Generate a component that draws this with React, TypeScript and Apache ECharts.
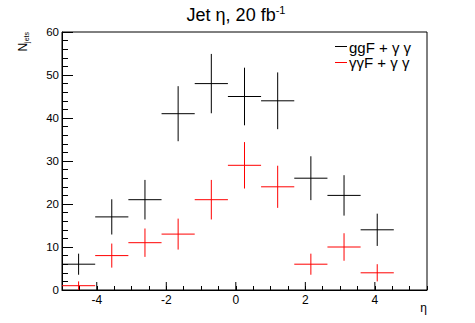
import React, { useEffect, useRef } from "react";
import * as echarts from "echarts";

// Histogram definition: 11 bins of eta from -5 to 5.5
const binEdges = [-5, -4.045, -3.091, -2.136, -1.182, -0.227, 0.727, 1.682, 2.636, 3.591, 4.545, 5.5];
const ggfCounts = [6, 17, 21, 41, 48, 45, 44, 26, 22, 14, 0];
const ggfErrors = [2.45, 4.1, 4.6, 6.4, 6.9, 6.7, 6.6, 5.1, 4.7, 3.75, 0];
const vbfCounts = [1, 8, 11, 13, 21, 29, 24, 6, 10, 4, 0];
const vbfErrors = [1, 2.8, 3.3, 3.6, 4.6, 5.4, 4.9, 2.45, 3.2, 2, 0];
const xMajorTicks = [-4, -2, 0, 2, 4];
const seriesNames = ["ggF + \u03b3 \u03b3", "\u03b3\u03b3F + \u03b3 \u03b3"];
const seriesColors = ["#000000", "#ff0000"];

const FONT = "Liberation Sans, Arial, Helvetica, sans-serif";

function buildData(counts: number[], errors: number[]) {
  const out: number[][] = [];
  counts.forEach((v, i) => {
    if (v <= 0) return;
    const lo = binEdges[i];
    const hi = binEdges[i + 1];
    out.push([(lo + hi) / 2, v, lo, hi, errors[i]]);
  });
  return out;
}

function errorSeries(name: string, counts: number[], errors: number[], color: string) {
  return {
    type: "custom",
    name,
    clip: true,
    data: buildData(counts, errors),
    renderItem: (_params: any, api: any) => {
      const c = api.value(0);
      const v = api.value(1);
      const lo = api.value(2);
      const hi = api.value(3);
      const e = api.value(4);
      const pL = api.coord([lo, v]);
      const pR = api.coord([hi, v]);
      const pT = api.coord([c, v + e]);
      const pB = api.coord([c, Math.max(0, v - e)]);
      return {
        type: "group",
        children: [
          {
            type: "line",
            shape: { x1: pL[0], y1: pL[1], x2: pR[0], y2: pR[1] },
            style: { stroke: color, lineWidth: 1 },
          },
          {
            type: "line",
            shape: { x1: pT[0], y1: pT[1], x2: pB[0], y2: pB[1] },
            style: { stroke: color, lineWidth: 1 },
          },
        ],
      };
    },
  };
}

export default function App() {
  const ref = useRef<HTMLDivElement>(null);
  useEffect(() => {
    if (!ref.current) return;
    const chart = echarts.init(ref.current, undefined, { renderer: "svg" });
    const option: any = {
      animation: false,
      backgroundColor: "#ffffff",
      grid: {
        left: 62,
        right: 48,
        top: 32,
        bottom: 33,
        show: true,
        borderColor: "#000",
        borderWidth: 1,
        backgroundColor: "transparent",
      },
      xAxis: {
        type: "value",
        min: -5,
        max: 5.5,
        interval: 0.5,
        splitLine: { show: false },
        axisLine: { show: true, onZero: false, lineStyle: { color: "#000", width: 1 } },
        axisTick: { show: true, inside: true, length: 4, lineStyle: { color: "#000" } },
        axisLabel: {
          color: "#000",
          fontFamily: FONT,
          fontSize: 12,
          margin: 4,
          showMinLabel: true,
          showMaxLabel: true,
          formatter: (v: number) =>
            xMajorTicks.some((t) => Math.abs(t - v) < 1e-6) ? String(v) : "",
        },
      },
      yAxis: {
        type: "value",
        min: 0,
        max: 60,
        interval: 10,
        splitLine: { show: false },
        axisLine: { show: true, onZero: false, lineStyle: { color: "#000", width: 1 } },
        axisTick: { show: true, inside: true, length: 11, lineStyle: { color: "#000" } },
        minorTick: { show: true, splitNumber: 5, length: 6, lineStyle: { color: "#000" } },
        minorSplitLine: { show: false },
        axisLabel: { color: "#000", fontFamily: FONT, fontSize: 11.5, margin: 3 },
      },
      series: [
        {
          type: "custom",
          name: "majorTicks",
          silent: true,
          clip: false,
          data: xMajorTicks.map((t) => [t, 0]),
          renderItem: (_p: any, api: any) => {
            const p = api.coord([api.value(0), 0]);
            return {
              type: "line",
              shape: { x1: p[0], y1: p[1], x2: p[0], y2: p[1] - 8 },
              style: { stroke: "#000", lineWidth: 1 },
            };
          },
        },
        errorSeries(seriesNames[0], ggfCounts, ggfErrors, seriesColors[0]),
        errorSeries(seriesNames[1], vbfCounts, vbfErrors, seriesColors[1]),
      ],
      graphic: [
        {
          type: "text",
          x: 236,
          y: 15,
          style: {
            text: "Jet \u03b7, 20 fb{sup|-1}",
            fill: "#000",
            font: `18px ${FONT}`,
            align: "center",
            verticalAlign: "middle",
            rich: {
              sup: { fontSize: 11, fontFamily: FONT, fill: "#000", verticalAlign: "top", lineHeight: 22 },
            },
          },
        },
        {
          type: "text",
          x: 30,
          y: 32,
          rotation: Math.PI / 2,
          style: {
            text: "N{sub|jets}",
            fill: "#000",
            font: `12px ${FONT}`,
            align: "right",
            verticalAlign: "bottom",
            rich: {
              sub: { fontSize: 7, fontFamily: FONT, fill: "#000", verticalAlign: "bottom", lineHeight: 14 },
            },
          },
        },
        {
          type: "text",
          x: 427,
          y: 308,
          style: {
            text: "\u03b7",
            fill: "#000",
            font: `12px ${FONT}`,
            align: "right",
            verticalAlign: "middle",
          },
        },
        {
          type: "line",
          shape: { x1: 335, y1: 46.5, x2: 347, y2: 46.5 },
          style: { stroke: seriesColors[0], lineWidth: 1 },
        },
        {
          type: "text",
          x: 349,
          y: 47,
          style: {
            text: seriesNames[0],
            fill: "#000",
            font: `15px ${FONT}`,
            align: "left",
            verticalAlign: "middle",
          },
        },
        {
          type: "line",
          shape: { x1: 335, y1: 62.5, x2: 347, y2: 62.5 },
          style: { stroke: seriesColors[1], lineWidth: 1 },
        },
        {
          type: "text",
          x: 349,
          y: 62.5,
          style: {
            text: seriesNames[1],
            fill: "#000",
            font: `15px ${FONT}`,
            align: "left",
            verticalAlign: "middle",
          },
        },
      ],
    };
    chart.setOption(option);
    return () => chart.dispose();
  }, []);
  return (
    <div
      ref={ref}
      style={{ position: "fixed", left: 0, top: 0, width: 475, height: 323 }}
    />
  );
}
